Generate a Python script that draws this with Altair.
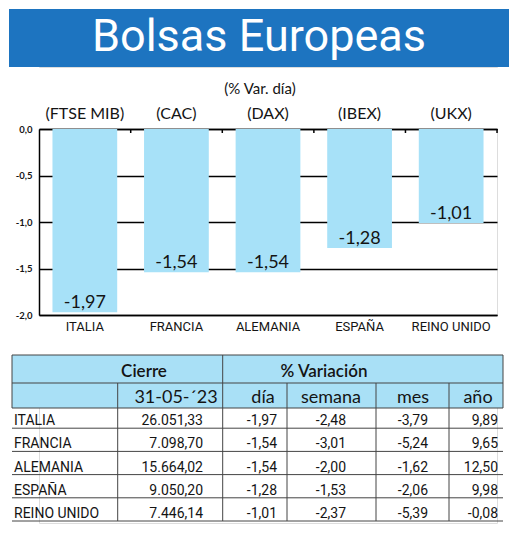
import altair as alt
import pandas as pd

# ---------------- data ----------------
countries = ["ITALIA", "FRANCIA", "ALEMANIA", "ESPAÑA", "REINO UNIDO"]
indices = ["(FTSE MIB)", "(CAC)", "(DAX)", "(IBEX)", "(UKX)"]
var_dia = [-1.97, -1.54, -1.54, -1.28, -1.01]
cierre = [26051.33, 7098.70, 15664.02, 9050.20, 7446.14]
var_semana = [-2.48, -3.01, -2.00, -1.53, -2.37]
var_mes = [-3.79, -5.24, -1.62, -2.06, -5.39]
var_anio = [9.89, 9.65, 12.50, 9.98, -0.08]
y_ticks = [0.0, -0.5, -1.0, -1.5, -2.0]

title_text = "Bolsas Europeas"
subtitle_text = "(% Var. día)"
header_top = ["Cierre", "% Variación"]
header_sub = ["31-05-´23", "día", "semana", "mes", "año"]

# ---------------- styles ----------------
FONT = "Lato, Open Sans, sans-serif"
TFONT = "Roboto, Lato, sans-serif"
COND = "Roboto, sans-serif"
BANNER = "#1d74c0"
BAR = "#a7e1f8"
HDR = "#a9e0f6"
INK = "#141414"
LINE = "#444444"
OX = -30  # panels share the bar chart's plot origin; this is the page-left offset


def es(v, thousands=False):
    s = f"{v:,.2f}" if thousands else f"{v:.2f}"
    return s.replace(",", "X").replace(".", ",").replace("X", ".")


df = pd.DataFrame({
    "pais": countries,
    "indice": indices,
    "dia": var_dia,
})
df["dia_txt"] = [es(v) for v in var_dia]
df["cierre_txt"] = [es(v, True) for v in cierre]
df["semana_txt"] = [es(v) for v in var_semana]
df["mes_txt"] = [es(v) for v in var_mes]
df["anio_txt"] = [es(v) for v in var_anio]

one = pd.DataFrame({"k": [0]})

# ---------------- banner ----------------
banner_box = alt.Chart(one).mark_rect(fill=BANNER).encode(
    x=alt.value(OX), x2=alt.value(OX + 500), y=alt.value(0), y2=alt.value(58))
banner_txt = alt.Chart(pd.DataFrame({"t": [title_text]})).mark_text(
    font=TFONT, fontSize=45, color="white", baseline="alphabetic", align="center"
).encode(text="t:N", x=alt.value(OX + 250), y=alt.value(42))
banner = alt.layer(banner_box, banner_txt).properties(width=458, height=58)

# ---------------- bar chart ----------------
lab_map = "[" + ",".join(f"'{s}'" for s in indices) + "][indexof([" + ",".join(f"'{c}'" for c in countries) + "], datum.value)]"

xscale = alt.Scale(paddingInner=0.293, paddingOuter=0.147)
base = alt.Chart(df)

bars = base.mark_bar(color=BAR).encode(
    x=alt.X("pais:N", sort=countries, title=None, scale=xscale,
            axis=alt.Axis(orient="bottom", ticks=False, domainColor="black", domainWidth=1.5,
                          labelFont=COND, labelFontSize=13, labelColor=INK, labelPadding=5,
                          labelAngle=0)),
    y=alt.Y("dia:Q", title=None, scale=alt.Scale(domain=[-2, 0], nice=False),
            axis=alt.Axis(values=y_ticks, ticks=False, domainColor="black", domainWidth=1.5,
                          gridColor="black", gridWidth=1.3, gridOpacity=1,
                          labelExpr="replace((datum.value < 0 ? '-' : '') + format(abs(datum.value), '.1f'), '.', ',')",
                          labelFont=FONT, labelFontSize=9.5, labelFontWeight="bold",
                          labelColor=INK, labelPadding=7, minExtent=30, maxExtent=30)),
)

ticks = base.mark_rule(color="black", strokeWidth=1.5, xOffset=13.5).encode(
    x=alt.X("pais:N", sort=countries, title=None, bandPosition=1,
            axis=alt.Axis(orient="top", ticks=False, domainColor="black", domainWidth=1.5,
                          labelExpr=lab_map, labelFont=FONT, labelFontSize=16,
                          labelColor=INK, labelPadding=8, labelAngle=0)),
    y=alt.value(0), y2=alt.value(4),
)

labels = base.mark_text(font=FONT, fontSize=18, color=INK, baseline="alphabetic", dy=-4).encode(
    x=alt.X("pais:N", sort=countries, axis=None),
    y=alt.Y("dia:Q"),
    text="dia_txt:N",
)

barchart = alt.layer(bars, ticks, labels).resolve_axis(x="independent").properties(
    width=458, height=186,
    title=alt.TitleParams(subtitle_text, font=FONT, fontSize=15, fontWeight="normal",
                          color=INK, anchor="middle", dx=-8, offset=8),
)

# ---------------- table ----------------
TL, TR = OX + 3, OX + 494
H1, H2, TB = 28, 53, 166
row_range = [50, 166]

yrow = alt.Y("pais:N", sort=countries, axis=None, bandPosition=1,
             scale=alt.Scale(range=row_range, paddingInner=0, paddingOuter=0))

layers = []
layers.append(alt.Chart(one).mark_rect(fill=HDR, stroke=LINE, strokeWidth=1).encode(
    x=alt.value(TL), x2=alt.value(TR), y=alt.value(0), y2=alt.value(H2)))
layers.append(alt.Chart(one).mark_rule(color=LINE, strokeWidth=1).encode(
    x=alt.value(TL), x2=alt.value(TR), y=alt.value(H1)))
for xv, ytop in [(108.7, H1), (213.7, 0), (278, H1), (367, H1), (440, H1)]:
    layers.append(alt.Chart(one).mark_rule(color=LINE, strokeWidth=1).encode(
        x=alt.value(OX + xv), y=alt.value(ytop), y2=alt.value(TB)))

# row underlines
layers.append(alt.Chart(df).mark_rule(color=LINE, strokeWidth=1).encode(
    y=yrow, x=alt.value(TL), x2=alt.value(TR)))

# header texts
for txt, xv in zip(header_top, [135, 315]):
    layers.append(alt.Chart(pd.DataFrame({"t": [txt]})).mark_text(
        font=FONT, fontSize=17, fontWeight=600, color=INK, baseline="alphabetic").encode(
        text="t:N", x=alt.value(OX + xv), y=alt.value(22)))
for txt, xv in zip(header_sub, [167, 254, 322, 404, 469]):
    layers.append(alt.Chart(pd.DataFrame({"t": [txt]})).mark_text(
        font=FONT, fontSize=18, color=INK, baseline="alphabetic").encode(
        text="t:N", x=alt.value(OX + xv), y=alt.value(48)))

# data texts
layers.append(alt.Chart(df).mark_text(font=COND, fontSize=14, color=INK, align="left",
                                      baseline="alphabetic", dy=-3).encode(
    y=yrow, x=alt.value(OX + 5), text="pais:N"))
for col, xv in [("cierre_txt", 194), ("dia_txt", 268), ("semana_txt", 337),
                ("mes_txt", 419), ("anio_txt", 489)]:
    layers.append(alt.Chart(df).mark_text(font=COND, fontSize=14, color=INK, align="right",
                                          baseline="alphabetic", dy=-3).encode(
        y=yrow, x=alt.value(OX + xv), text=f"{col}:N"))

table = alt.layer(*layers).properties(width=458, height=168)

chart = alt.vconcat(
    banner,
    alt.vconcat(barchart, table, spacing=20),
    spacing=13,
).properties(padding=0).configure_view(strokeWidth=0).configure(background="white")

chart.save("out.html", embed_options={"renderer": "svg", "actions": False})
